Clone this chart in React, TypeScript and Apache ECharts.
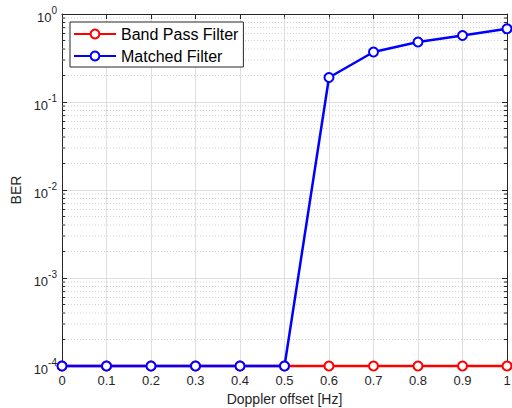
import React, { useEffect, useRef } from "react";
import * as echarts from "echarts";

const xValues = [0, 0.1, 0.2, 0.3, 0.4, 0.5, 0.6, 0.7, 0.8, 0.9, 1];
const bandPassBER = [1e-4, 1e-4, 1e-4, 1e-4, 1e-4, 1e-4, 1e-4, 1e-4, 1e-4, 1e-4, 1e-4];
const matchedBER = [1e-4, 1e-4, 1e-4, 1e-4, 1e-4, 1e-4, 0.19, 0.37, 0.48, 0.57, 0.68];
const decades = [1e-4, 1e-3, 1e-2, 1e-1];
const minorMultipliers = [2, 3, 4, 5, 6, 7, 8, 9];

const FONT = "'Liberation Sans', Arial, Helvetica, sans-serif";

export default function App() {
  const ref = useRef<HTMLDivElement>(null);
  useEffect(() => {
    if (!ref.current) return;
    const chart = echarts.init(ref.current, undefined, { renderer: "svg" });

    const minorValues: number[] = [];
    decades.forEach((d) => minorMultipliers.forEach((m) => minorValues.push(d * m)));

    const supFmt = (v: number) => `{b|10}{s|${Math.round(Math.log10(v))}}`;

    const axisCommon = {
      axisLine: { show: true, onZero: false, lineStyle: { color: "#262626", width: 1 } },
      axisTick: { show: true, inside: true, length: 5, lineStyle: { color: "#262626" } },
    };

    chart.setOption({
      animation: false,
      backgroundColor: "#fff",
      textStyle: { fontFamily: FONT },
      grid: { left: 62, right: 5, top: 14, bottom: 42, containLabel: false, outerBoundsMode: "none" },
      legend: {
        left: 70,
        top: 22,
        orient: "vertical",
        backgroundColor: "#fff",
        borderColor: "#262626",
        borderWidth: 1,
        borderRadius: 0,
        padding: [4, 5, 3, 3],
        itemGap: 6,
        itemWidth: 42,
        itemHeight: 11,
        textStyle: { fontSize: 16, color: "#000", fontFamily: FONT },
        data: ["Band Pass Filter", "Matched Filter"],
      },
      xAxis: [
        {
          type: "value",
          min: 0,
          max: 1,
          interval: 0.1,
          name: "Doppler offset [Hz]",
          nameLocation: "middle",
          nameGap: 24,
          nameTextStyle: { fontSize: 14, color: "#262626" },
          ...axisCommon,
          axisLabel: { fontSize: 13, color: "#262626", margin: 8 },
          splitLine: { show: true, lineStyle: { color: "#dedede", width: 1 } },
        },
        {
          type: "value",
          position: "top",
          min: 0,
          max: 1,
          interval: 0.1,
          ...axisCommon,
          axisLabel: { show: false },
          splitLine: { show: false },
        },
      ],
      yAxis: [
        {
          type: "log",
          logBase: 10,
          min: 1e-4,
          max: 1,
          name: "BER",
          nameLocation: "middle",
          nameGap: 38,
          nameTextStyle: { fontSize: 14, color: "#262626" },
          ...axisCommon,
          axisLabel: {
            formatter: supFmt,
            margin: 5,
            rich: {
              b: { fontSize: 13, color: "#262626", fontFamily: FONT, padding: [6, 0, 0, 0] },
              s: { fontSize: 10, color: "#262626", fontFamily: FONT, padding: [0, 0, 8, 0] },
            },
          },
          splitLine: { show: true, lineStyle: { color: "#dedede", width: 1 } },
        },
        {
          type: "log",
          logBase: 10,
          min: 1e-4,
          max: 1,
          position: "right",
          ...axisCommon,
          axisLabel: { show: false },
          splitLine: { show: false },
        },
      ],
      series: [
        {
          name: "minorGrid",
          type: "custom",
          coordinateSystem: "cartesian2d",
          xAxisIndex: 0,
          yAxisIndex: 0,
          silent: true,
          clip: false,
          z: 1,
          data: minorValues.map((v) => [0, v]),
          encode: { x: 0, y: 1 },
          renderItem: (params: any, api: any) => {
            const v = api.value(1);
            const a = api.coord([0, v]);
            const b = api.coord([1, v]);
            return {
              type: "group",
              children: [
                {
                  type: "line",
                  shape: { x1: a[0], y1: a[1], x2: b[0], y2: b[1] },
                  style: { stroke: "#d0d0d0", lineWidth: 1, lineDash: [1, 2] },
                },
                {
                  type: "line",
                  shape: { x1: a[0], y1: a[1], x2: a[0] + 3, y2: a[1] },
                  style: { stroke: "#262626", lineWidth: 1 },
                },
                {
                  type: "line",
                  shape: { x1: b[0] - 3, y1: b[1], x2: b[0], y2: b[1] },
                  style: { stroke: "#262626", lineWidth: 1 },
                },
              ],
            };
          },
        },
        {
          name: "Band Pass Filter",
          type: "line",
          data: xValues.map((x, i) => [x, bandPassBER[i]]),
          clip: false,
          symbol: "emptyCircle",
          symbolSize: 9,
          color: "#ff0000",
          lineStyle: { color: "#ff0000", width: 2.5, type: "solid" },
          itemStyle: { color: "#ff0000", borderColor: "#ff0000", borderWidth: 2.5 },
          z: 3,
        },
        {
          name: "Matched Filter",
          type: "line",
          data: xValues.map((x, i) => [x, matchedBER[i]]),
          clip: false,
          symbol: "emptyCircle",
          symbolSize: 9,
          color: "#0000ff",
          lineStyle: { color: "#0000ff", width: 2.5, type: "solid" },
          itemStyle: { color: "#0000ff", borderColor: "#0000ff", borderWidth: 2.5 },
          z: 4,
        },
      ],
    });
    return () => chart.dispose();
  }, []);
  return <div ref={ref} style={{ width: 512, height: 408, position: "absolute", left: 0, top: 0 }} />;
}
